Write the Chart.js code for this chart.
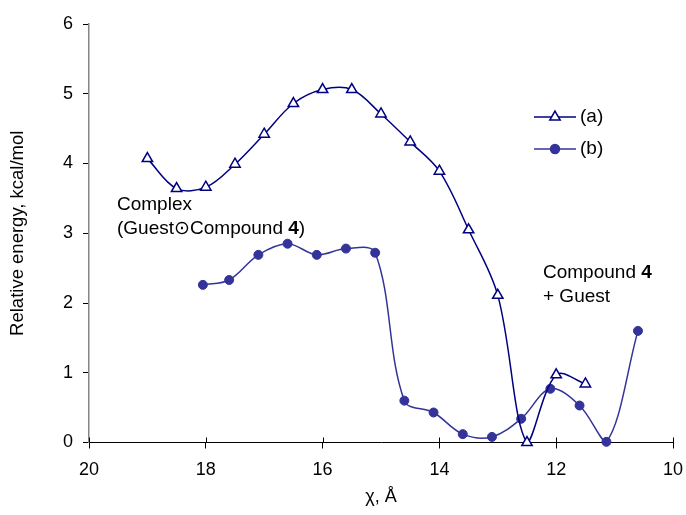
<!DOCTYPE html>
<html>
<head>
<meta charset="utf-8">
<script src="https://cdn.jsdelivr.net/npm/chart.js@4/dist/chart.umd.min.js"></script>
<style>
  body { margin: 0; background: #fff; }
  #wrap { position: relative; width: 686px; height: 515px; }
  .note {
    position: absolute;
    font-family: 'Liberation Sans', Arial, sans-serif;
    font-size: 19px;
    line-height: 24px;
    color: #000;
    white-space: nowrap;
  }
</style>
</head>
<body>
<div id="wrap">
  <canvas id="chart" width="686" height="515"></canvas>
  <div class="note" style="left:117px; top:192px;">Complex<br>(Guest&#8857;Compound <b>4</b>)</div>
  <div class="note" style="left:543px; top:260px;">Compound <b>4</b><br>+ Guest</div>
  <div class="note" style="left:580px; top:104px;">(a)</div>
  <div class="note" style="left:580px; top:136px;">(b)</div>
</div>
<script>
// ── data ─────────────────────────────────────────────────────────────────────

const xA = [19.0, 18.5, 18.0, 17.5, 17.0, 16.5, 16.0, 15.5, 15.0, 14.5, 14.0, 13.5, 13.0, 12.5, 12.0, 11.5];
const yA = [4.07, 3.64, 3.66, 3.99, 4.42, 4.86, 5.06, 5.06, 4.71, 4.31, 3.89, 3.05, 2.11, 0.0, 0.97, 0.84];

const xB = [18.05, 17.6, 17.1, 16.6, 16.1, 15.6, 15.1, 14.6, 14.1, 13.6, 13.1, 12.6, 12.1, 11.6, 11.14, 10.6];
const yB = [2.26, 2.33, 2.69, 2.85, 2.69, 2.78, 2.72, 0.60, 0.43, 0.12, 0.08, 0.34, 0.77, 0.53, 0.01, 1.60];

const xTicks = [20, 18, 16, 14, 12, 10];
const yTicks = [0, 1, 2, 3, 4, 5, 6];

const FONT = "'Liberation Sans', Arial, sans-serif";
const NAVY = '#000080';
const BLUE = '#333399';

// ── helpers ──────────────────────────────────────────────────────────────────

const pts = (xs, ys) => xs.map((x, i) => ({ x, y: ys[i] }));

// inner half of the x tick marks + the small legend samples
const extras = {
  id: 'extras',
  afterDraw(chart) {
    const { ctx, scales } = chart;
    const xs = scales.x;
    const yBottom = scales.y.getPixelForValue(0);
    ctx.save();
    ctx.strokeStyle = '#000';
    ctx.lineWidth = 1;
    xTicks.forEach((t) => {
      const px = Math.round(xs.getPixelForValue(t)) + 0.5;
      ctx.beginPath();
      ctx.moveTo(px, yBottom);
      ctx.lineTo(px, yBottom - 5);
      ctx.stroke();
    });

    const legend = [
      { y: 117, color: NAVY, style: 'triangle', r: 6, fill: '#fff' },
      { y: 149, color: BLUE, style: 'circle', r: 4.5, fill: BLUE },
    ];
    legend.forEach((l) => {
      ctx.strokeStyle = l.color;
      ctx.lineWidth = 1.5;
      ctx.beginPath();
      ctx.moveTo(534, l.y);
      ctx.lineTo(576, l.y);
      ctx.stroke();
      ctx.fillStyle = l.fill;
      ctx.strokeStyle = l.color;
      Chart.helpers.drawPoint(ctx, { pointStyle: l.style, radius: l.r, rotation: 0, borderWidth: 1.5 }, 555, l.y);
    });
    ctx.restore();
  },
};

// ── chart ────────────────────────────────────────────────────────────────────

new Chart(document.getElementById('chart'), {
  type: 'line',
  data: {
    datasets: [
      {
        label: '(a)',
        data: pts(xA, yA),
        borderColor: NAVY,
        borderWidth: 1.5,
        pointStyle: 'triangle',
        pointRadius: 6,
        pointBackgroundColor: '#fff',
        pointBorderColor: NAVY,
        pointBorderWidth: 1.5,
        tension: 0.35,
        clip: false,
      },
      {
        label: '(b)',
        data: pts(xB, yB),
        borderColor: BLUE,
        borderWidth: 1.5,
        pointStyle: 'circle',
        pointRadius: 4.5,
        pointBackgroundColor: BLUE,
        pointBorderColor: BLUE,
        pointBorderWidth: 1,
        tension: 0.35,
        clip: false,
      },
    ],
  },
  options: {
    responsive: false,
    animation: false,
    layout: { padding: { left: 0, right: 13, top: 24, bottom: 0 } },
    plugins: { legend: { display: false }, tooltip: { enabled: false } },
    scales: {
      x: {
        type: 'linear',
        reverse: true,
        min: 10,
        max: 20,
        afterBuildTicks: (s) => { s.ticks = xTicks.map((v) => ({ value: v })); },
        afterFit: (s) => { s.height = 72.5; s.paddingLeft = 0; s.paddingRight = 0; },
        border: { display: true, color: '#000', width: 1 },
        grid: { drawOnChartArea: false, drawTicks: true, tickLength: 6, color: '#000' },
        ticks: { color: '#000', padding: 11, font: { family: FONT, size: 18 }, maxRotation: 0 },
        title: {
          display: true,
          text: 'χ, Å',
          color: '#000',
          font: { family: FONT, size: 18 },
          padding: { top: 0, bottom: 7 },
        },
      },
      y: {
        type: 'linear',
        min: 0,
        max: 6,
        afterBuildTicks: (s) => { s.ticks = yTicks.map((v) => ({ value: v })); },
        afterFit: (s) => { s.width = 89; s.paddingTop = 0; s.paddingBottom = 0; },
        border: { display: true, color: '#868686', width: 1.5 },
        grid: { drawOnChartArea: false, drawTicks: true, tickLength: 6, color: '#000' },
        ticks: { color: '#000', padding: 10, font: { family: FONT, size: 18 } },
        title: {
          display: true,
          text: 'Relative energy, kcal/mol',
          color: '#000',
          font: { family: FONT, size: 18.5 },
          padding: { top: 7, bottom: 0 },
        },
      },
    },
  },
  plugins: [extras],
});
</script>
</body>
</html>
